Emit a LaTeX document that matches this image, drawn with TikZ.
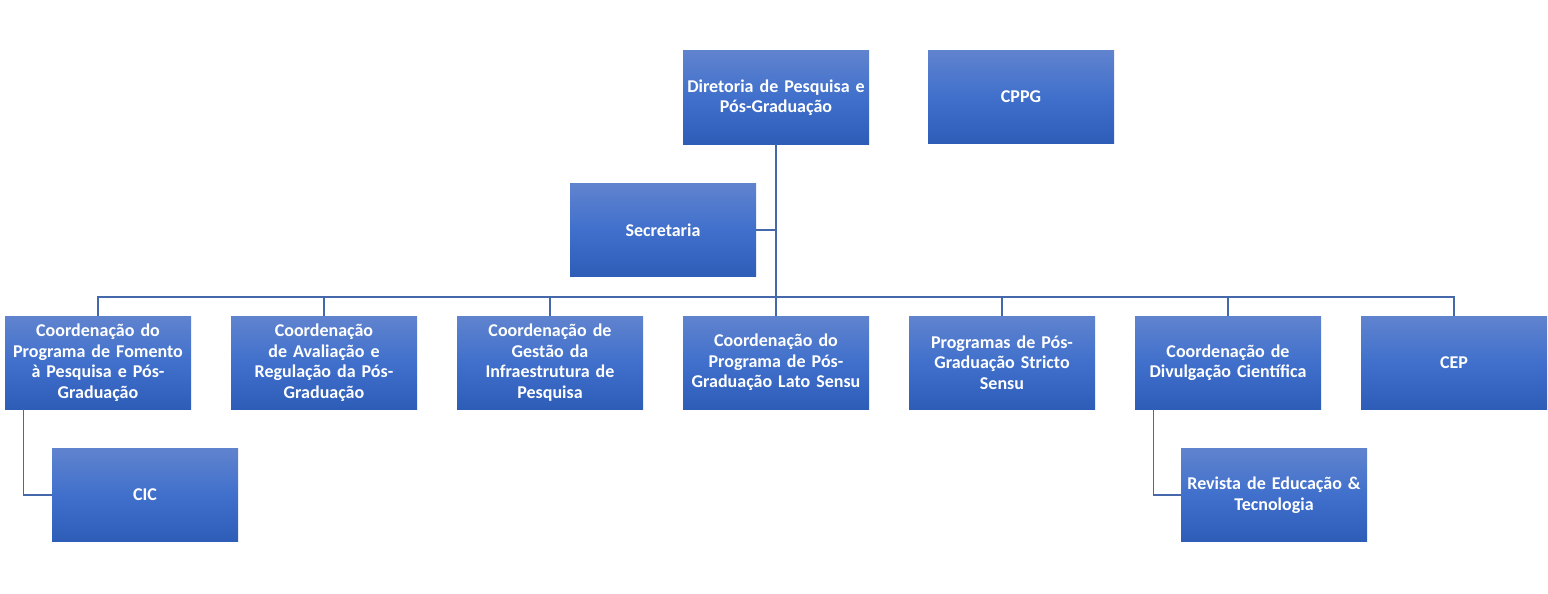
\documentclass[tikz,border=0pt]{standalone}
\usepackage{fontspec}
\setmainfont{Carlito}
\definecolor{boxtop}{RGB}{96,131,206}
\definecolor{boxmid}{RGB}{64,112,204}
\definecolor{boxbot}{RGB}{46,93,184}
\definecolor{linecol}{RGB}{68,104,170}
\begin{document}
\begin{tikzpicture}[x=1pt,y=-1pt,
  orgbox/.style={rectangle, minimum width=186pt, minimum height=93pt, inner sep=1pt,
    top color=boxtop, bottom color=boxbot, middle color=boxmid, draw=none,
    text=white, font=\bfseries\fontsize{18}{20.5}\selectfont, align=center, text width=184pt},
  conn/.style={draw=linecol, line width=1.3pt}]
\useasboundingbox (0,0) rectangle (1548,594);
\node[orgbox] (dir) at (776,97.5) {Diretoria de Pesquisa e\\Pós-Graduação};
\node[orgbox] (cppg) at (1021,97) {CPPG};
\node[orgbox] (sec) at (663,230) {Secretaria};
\node[orgbox] (c1) at (98,362.5) {Coordenação do\\Programa de Fomento\\à Pesquisa e Pós-\\Graduação};
\node[orgbox] (c2) at (324,362.5) {Coordenação\\de Avaliação e\\Regulação da Pós-\\Graduação};
\node[orgbox] (c3) at (550,362.5) {Coordenação de\\Gestão da\\Infraestrutura de\\Pesquisa};
\node[orgbox] (c4) at (776,362.5) {Coordenação do\\Programa de Pós-\\Graduação Lato Sensu};
\node[orgbox] (c5) at (1002,362.5) {Programas de Pós-\\Graduação Stricto\\Sensu};
\node[orgbox] (c6) at (1228,362.5) {Coordenação de\\Divulgação Científica};
\node[orgbox] (c7) at (1454,362.5) {CEP};
\node[orgbox] (cic) at (145,495) {CIC};
\node[orgbox] (rev) at (1274,495) {Revista de Educação \&\\Tecnologia};
\coordinate (bus) at (776,297);
\draw[conn] (dir.south) -- (c4.north);
\draw[conn] (sec.east) -- (sec.east -| dir.south);
\foreach \c in {c1,c2,c3,c5,c6,c7}{
  \draw[conn] (dir.south |- bus) -| (\c.north);
}
\draw[conn] ([xshift=19pt]c1.south west) |- (cic.west);
\draw[conn] ([xshift=19pt]c6.south west) |- (rev.west);
\end{tikzpicture}
\end{document}
